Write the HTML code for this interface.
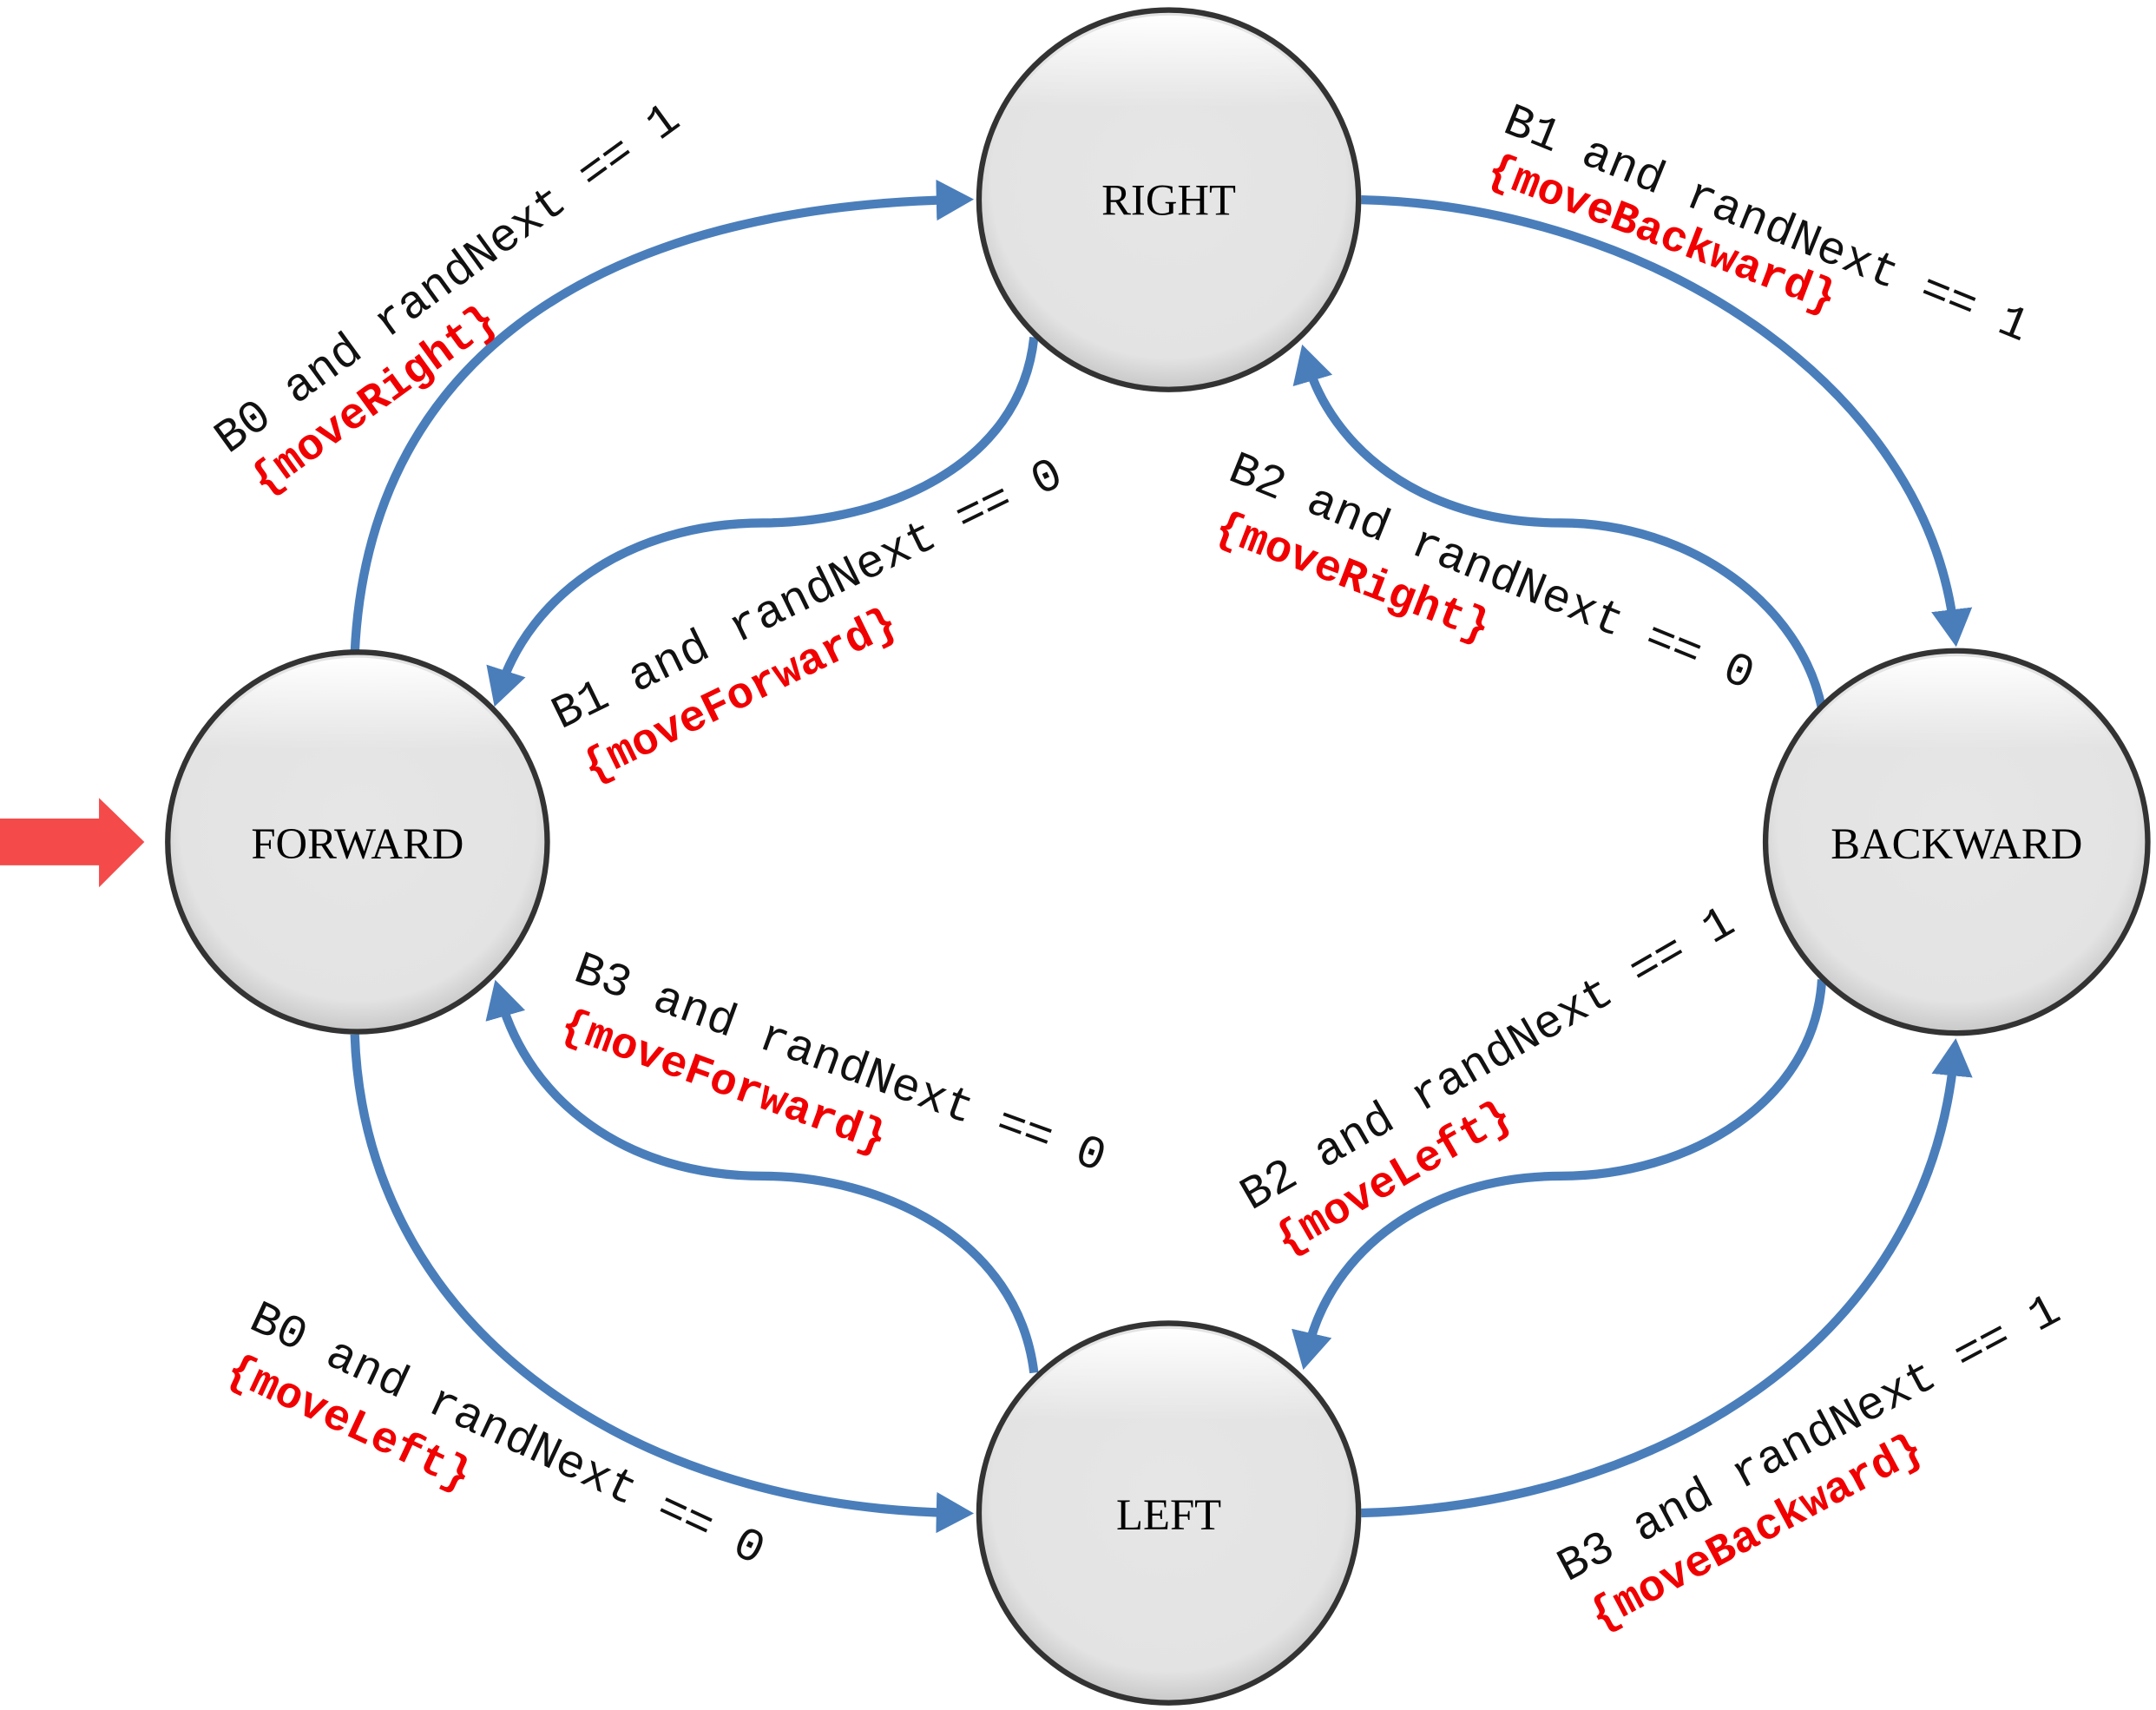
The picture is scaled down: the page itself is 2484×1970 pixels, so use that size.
<!DOCTYPE html>
<html><head><meta charset="utf-8"><style>
html,body{margin:0;padding:0;background:#fff}
svg{display:block}
.t{font-family:"Liberation Mono",monospace;font-size:34px;fill:#111}
.r{font-family:"Liberation Mono",monospace;font-size:32px;font-weight:bold;fill:#f00000}
.n{font-family:"Liberation Serif",serif;font-size:32px;fill:#000}
</style></head><body>
<svg width="2484" height="1970" viewBox="0 0 1568 1243" xmlns="http://www.w3.org/2000/svg">
<defs>
<radialGradient id="g" cx="50%" cy="45%" r="55%">
<stop offset="0" stop-color="#e6e6e6"/><stop offset="0.85" stop-color="#e3e3e3"/><stop offset="1" stop-color="#c8c8c8"/>
</radialGradient>
<linearGradient id="hl" x1="0" y1="0" x2="0" y2="1">
<stop offset="0" stop-color="#fff" stop-opacity="1"/><stop offset="0.25" stop-color="#fff" stop-opacity="0"/>
</linearGradient>
<marker id="a" markerWidth="6" markerHeight="6" refX="2" refY="3" orient="auto" markerUnits="strokeWidth">
<path d="M0,0.7 L4.2,3 L0,5.3 z" fill="#4a7ebb"/>
</marker>
</defs>
<g fill="none" stroke="#4a7ebb" stroke-width="6.5">
<path d="M258,475 C 268,250 450,150 694,145" marker-end="url(#a)"/>
<path d="M752,245 C 742,340 640,380 555,380 C 455,380 385,435 364,500" marker-end="url(#a)"/>
<path d="M990,145 C 1200,150 1400,280 1421,456" marker-end="url(#a)"/>
<path d="M1325,515 C 1310,440 1230,380 1135,380 C 1030,380 968,322 951,264" marker-end="url(#a)"/>
<path d="M1325,712 C 1320,800 1230,855 1135,855 C 1040,855 968,908 951,982" marker-end="url(#a)"/>
<path d="M990,1100 C 1200,1095 1400,980 1421,769" marker-end="url(#a)"/>
<path d="M752,998 C 740,900 640,855 555,855 C 455,855 385,800 364,726" marker-end="url(#a)"/>
<path d="M258,752 C 265,960 450,1095 694,1100" marker-end="url(#a)"/>
</g>
<path d="M0,595 L72,595 L72,580 L105,612 L72,645 L72,629 L0,629 z" fill="#f44a4a"/>
<g stroke="#333" stroke-width="4">
<circle cx="850" cy="145" r="138" fill="url(#g)"/>
<circle cx="260" cy="612" r="138" fill="url(#g)"/>
<circle cx="1423" cy="612" r="139" fill="url(#g)"/>
<circle cx="850" cy="1100" r="138" fill="url(#g)"/>
</g>
<g fill="url(#hl)">
<circle cx="850" cy="145" r="134"/><circle cx="260" cy="612" r="134"/><circle cx="1423" cy="612" r="135"/><circle cx="850" cy="1100" r="134"/>
</g>
<g text-anchor="middle" class="n">
<text x="850" y="156" class="n">RIGHT</text>
<text x="260" y="624" class="n">FORWARD</text>
<text x="1423" y="624" class="n">BACKWARD</text>
<text x="850" y="1112" class="n">LEFT</text>
</g>
<text class="t" transform="translate(166,330) rotate(-36)">B0 and randNext == 1</text>
<text class="r" transform="translate(192,360) rotate(-36)">{moveRight}</text>
<text class="t" transform="translate(408,530) rotate(-26)">B1 and randNext == 0</text>
<text class="r" transform="translate(430,568) rotate(-26)">{moveForward}</text>
<text class="t" transform="translate(1092,95) rotate(22)">B1 and randNext == 1</text>
<text class="r" transform="translate(1080,130) rotate(21)">{moveBackward}</text>
<text class="t" transform="translate(892,348) rotate(22)">B2 and randNext == 0</text>
<text class="r" transform="translate(882,390) rotate(21)">{moveRight}</text>
<text class="t" transform="translate(416,712) rotate(20)">B3 and randNext == 0</text>
<text class="r" transform="translate(406,752) rotate(20)">{moveForward}</text>
<text class="t" transform="translate(910,880) rotate(-30)">B2 and randNext == 1</text>
<text class="r" transform="translate(935,912) rotate(-30)">{moveLeft}</text>
<text class="t" transform="translate(180,965) rotate(25)">B0 and randNext == 0</text>
<text class="r" transform="translate(163,1002) rotate(25)">{moveLeft}</text>
<text class="t" transform="translate(1140,1150) rotate(-28)">B3 and randNext == 1</text>
<text class="r" transform="translate(1163,1185) rotate(-28)">{moveBackward}</text>
</svg>
</body></html>
